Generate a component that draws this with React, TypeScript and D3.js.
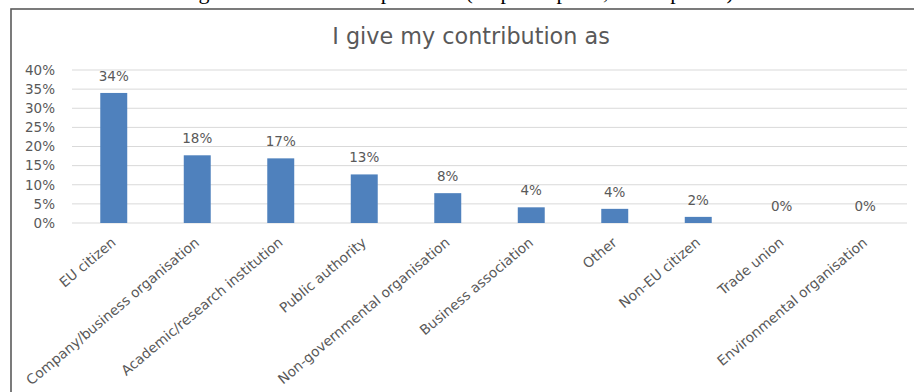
import React from "react";
import * as d3 from "d3";

const categories: string[] = [
  "EU citizen",
  "Company/business organisation",
  "Academic/research institution",
  "Public authority",
  "Non-governmental organisation",
  "Business association",
  "Other",
  "Non-EU citizen",
  "Trade union",
  "Environmental organisation",
];
const values: number[] = [34, 17.7, 16.9, 12.7, 7.8, 4.1, 3.7, 1.6, 0, 0];
const yTicks: number[] = [0, 5, 10, 15, 20, 25, 30, 35, 40];
const title = "I give my contribution as";
const caption = "Figure 1: Profile of respondents (all participants, self-reported)";

const W = 914;
const H = 392;
const FONT = "'DejaVu Sans', sans-serif";
const GRAY = "#595959";

export default function App() {
  const x = d3
    .scaleBand<string>()
    .domain(categories)
    .range([72, 907])
    .paddingInner(0.677)
    .paddingOuter(0.677 / 2);
  const y = d3.scaleLinear().domain([0, 40]).range([223, 70]);
  const fmt = (v: number) => `${Math.round(v)}%`;

  return (
    <svg
      width={W}
      height={H}
      style={{ position: "absolute", left: 0, top: 0, background: "#fff" }}
    >
      <text
        x={457}
        y={-1}
        textAnchor="middle"
        fontFamily="'Liberation Serif', serif"
        fontSize={22}
        fill="#000"
      >
        {caption}
      </text>
      <rect x={11} y={9} width={W + 10} height={H + 10} fill="#fff" stroke="#5a5a5a" strokeWidth={1.6} />
      <text x={471} y={44} textAnchor="middle" fontFamily={FONT} fontSize={22.3} fill={GRAY}>
        {title}
      </text>
      {yTicks.map((t) => (
        <g key={t}>
          <line x1={72} x2={907} y1={y(t)} y2={y(t)} stroke="#d9d9d9" strokeWidth={1} />
          <text
            x={55}
            y={y(t)}
            dy="0.36em"
            textAnchor="end"
            fontFamily={FONT}
            fontSize={13.5}
            fill={GRAY}
          >
            {t}%
          </text>
        </g>
      ))}
      {categories.map((c, i) => {
        const cx = (x(c) as number) + x.bandwidth() / 2;
        return (
          <g key={c}>
            <rect
              x={x(c)}
              y={y(values[i])}
              width={x.bandwidth()}
              height={y(0) - y(values[i])}
              fill="#4f81bd"
            />
            <text
              x={cx}
              y={y(values[i]) - 12}
              textAnchor="middle"
              fontFamily={FONT}
              fontSize={13.5}
              fill={GRAY}
            >
              {fmt(values[i])}
            </text>
            <text
              transform={`translate(${cx + 3},${244}) rotate(-40)`}
              textAnchor="end"
              fontFamily={FONT}
              fontSize={13.8}
              fill={GRAY}
            >
              {c}
            </text>
          </g>
        );
      })}
    </svg>
  );
}
